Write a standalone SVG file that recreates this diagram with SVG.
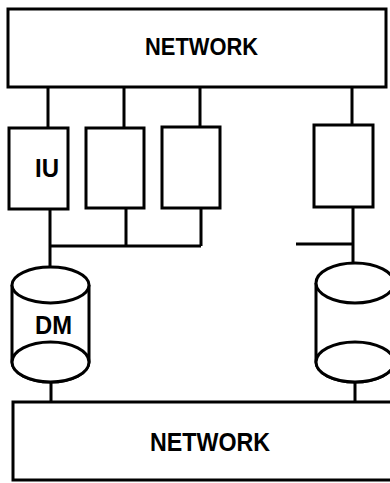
<svg xmlns="http://www.w3.org/2000/svg" width="390" height="483" viewBox="0 0 390 483">
<style>
.s{fill:none;stroke:#000;stroke-width:3}
.w{fill:#fff;stroke:#000;stroke-width:3}
.t{font-family:"Liberation Sans","Arial",sans-serif;font-weight:bold;fill:#000}
</style>
<rect x="0" y="0" width="390" height="483" fill="#fff"/>
<g id="connectors" class="s">
<path d="M48 87V128M124 87V128M200 87V127M352 87V125"/>
<path d="M50 209V267M126 208V246M201 208V246M50 246H201"/>
<path d="M353 207V264M296 244H353"/>
<path d="M51 382V402M355 382V402"/>
</g>
<g id="network-top">
<rect class="w" x="8" y="9" width="378" height="78"/>
<text class="t" x="145" y="55" font-size="24" textLength="113" lengthAdjust="spacingAndGlyphs">NETWORK</text>
</g>
<g id="iu">
<rect class="w" x="9" y="128" width="59" height="81"/>
<text class="t" x="35" y="177" font-size="26" textLength="24" lengthAdjust="spacingAndGlyphs">IU</text>
</g>
<g id="box2"><rect class="w" x="86" y="128" width="58" height="80"/></g>
<g id="box3"><rect class="w" x="162" y="127" width="58" height="81"/></g>
<g id="box4"><rect class="w" x="314" y="125" width="59" height="82"/></g>
<g id="dm">
<path class="w" d="M12 285V362A38.5 20 0 0 0 89 362V285"/>
<ellipse class="w" cx="50.5" cy="285" rx="38.5" ry="18"/>
<ellipse class="w" cx="50.5" cy="362" rx="38.5" ry="20"/>
<text class="t" x="35" y="334" font-size="25" textLength="37" lengthAdjust="spacingAndGlyphs">DM</text>
</g>
<g id="db2">
<path class="w" d="M316 283V362A39 20 0 0 0 394 362V283"/>
<ellipse class="w" cx="355" cy="283" rx="39" ry="20"/>
<ellipse class="w" cx="355" cy="362" rx="39" ry="20"/>
</g>
<g id="network-bottom">
<rect class="w" x="13" y="402" width="390" height="78"/>
<text class="t" x="150" y="451" font-size="26" textLength="120" lengthAdjust="spacingAndGlyphs">NETWORK</text>
</g>
</svg>
